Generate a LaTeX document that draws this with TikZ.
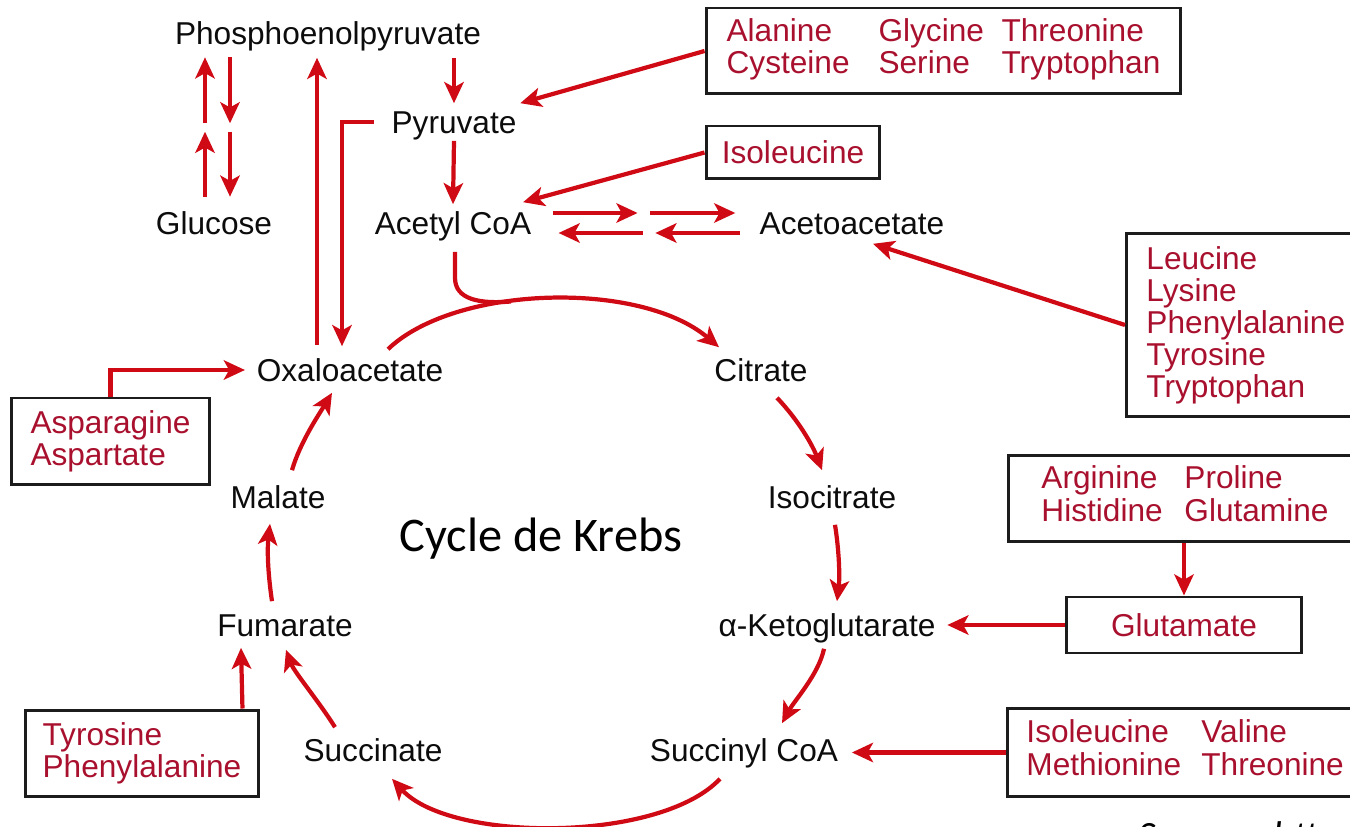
\documentclass[tikz,border=0pt]{standalone}
\usepackage{fontspec}
\setmainfont{Liberation Sans}
\newfontfamily\krebsfont{Carlito}
\usepackage{xcolor}
\usetikzlibrary{arrows.meta,calc}
\definecolor{KRArrow}{HTML}{CF0A14}
\definecolor{KRText}{HTML}{A8102E}
\definecolor{KRLine}{HTML}{1C1C1C}
\definecolor{KRInk}{HTML}{0C0C0C}
\tikzset{
  metab/.style={text=KRInk,font=\fontsize{18}{20}\selectfont,text height=13pt,text depth=4pt,inner sep=2pt},
  aabox/.style={draw=KRLine,line width=1.7pt,text=KRText,font=\fontsize{18}{18.2}\selectfont,inner ysep=0pt},
  rarr/.style={draw=KRArrow,line width=2.4pt,-{Stealth[length=12pt,width=11pt,inset=3pt]}},
  rline/.style={draw=KRArrow,line width=2.4pt}
}

\begin{document}
\begin{tikzpicture}[x=0.02cm,y=-0.02cm]
\useasboundingbox (0,0) rectangle (1350,827);
\clip (0,0) rectangle (1350,827);
% metabolites
\foreach \x/\y/\nm/\lab in {328/33/pep/Phosphoenolpyruvate,454/122/pyr/Pyruvate,214/223/glc/Glucose,
  453/223/acoa/Acetyl CoA,852/223/aca/Acetoacetate,350/370/oaa/Oxaloacetate,761/370/cit/Citrate,
  278/497/mal/Malate,832/497/icit/Isocitrate,285/625/fum/Fumarate,827/625/akg/α-Ketoglutarate,
  373/750/suc/Succinate,744/750/scoa/Succinyl CoA} {
  \node[metab] (\nm) at (\x,\y) {\raisebox{-1.9pt}{\lab}};
}
\node[font=\krebsfont\fontsize{27.5}{30}\selectfont,text=black] (krebs) at (541,539) {Cycle de Krebs};
% amino acid boxes
\node[aabox,minimum width=9.5cm,minimum height=1.72cm] (bxAla) at (943.5,51)
  {\begin{tabular}{@{}p{3.04cm}@{}p{2.46cm}@{}l@{}}Alanine&Glycine&Threonine\\Cysteine&Serine&Tryptophan\end{tabular}};
\node[aabox,minimum width=3.48cm,minimum height=1.06cm] (bxIle) at (793,152.5) {Isoleucine};
\node[aabox,anchor=west,inner xsep=0.4cm,text width=5cm,align=left,minimum height=3.68cm] (bxLeu) at (1125,325)
  {Leucine\\Lysine\\Phenylalanine\\Tyrosine\\Tryptophan};
\node[aabox,anchor=west,inner xsep=0.66cm,minimum height=1.74cm] (bxArg) at (1007,498.5)
  {\begin{tabular}{@{}p{2.86cm}@{}p{4cm}@{}}Arginine&Proline\\Histidine&Glutamine\end{tabular}};
\node[aabox,minimum width=4.72cm,minimum height=1.12cm] (bxGlu) at (1184,625) {Glutamate};
\node[aabox,anchor=west,inner xsep=0.38cm,minimum height=1.78cm] (bxVal) at (1006,752.5)
  {\begin{tabular}{@{}p{3.5cm}@{}p{4cm}@{}}Isoleucine&Valine\\Methionine&Threonine\end{tabular}};
\node[aabox,align=left,minimum width=3.98cm,minimum height=1.74cm] (bxAsn) at (110.5,441.5) {Asparagine\\Aspartate};
\node[aabox,align=left,minimum width=4.68cm,minimum height=1.74cm] (bxTyr) at (142,753.5) {Tyrosine\\Phenylalanine};
\node[font=\krebsfont\itshape\fontsize{22}{24}\selectfont,anchor=north west,inner sep=0pt] (src) at (1138,821) {Source : https://};
% feeds from amino acids
\draw[rarr] (bxAla.west) -- (pyr.north east);
\draw[rarr] (bxIle.west) -- ($(acoa.north east)+(-12,-2)$);
\draw[rarr] (bxLeu.west) -- ($(aca.south)+(21,2)$);
\draw[rarr] (bxAsn.north) |- ($(oaa.west)+(-8,0)$);
\draw[rarr] ($(bxTyr.north east)+(-18,0)$) -- ($(fum.south)+(-44,4)$);
\draw[rarr] (bxGlu.west) -- ($(akg.east)+(8,0)$);
\draw[rarr] (bxGlu.north |- bxArg.south) -- (bxGlu.north);
\draw[rarr] (bxVal.west) -- ($(scoa.east)+(10,2.5)$);
% glucose / pep / pyruvate
\draw[rarr] ($(pep.south)+(-123,71.5)$) -- ($(pep.south)+(-123,5.5)$);
\draw[rarr] ($(pep.south)+(-98,5.5)$) -- ($(pep.south)+(-98,71.5)$);
\draw[rarr] ($(glc.north)+(-9,-7.5)$) -- ($(glc.north)+(-9,-72.5)$);
\draw[rarr] ($(glc.north)+(16,-72.5)$) -- ($(glc.north)+(16,-7.5)$);
\draw[rarr] ($(oaa.north)+(-33,-6)$) -- ($(pep.south)+(-11,6)$);
\draw[rarr] ($(pyr.west)+(-14,0)$) -| ($(oaa.north)+(-8,-5)$);
\draw[rarr] ($(pep.south -| pyr.north)+(0,6)$) -- (pyr.north);
\draw[rarr] (pyr.south) -- (acoa.north);
% acetyl coa <-> acetoacetate
\draw[rarr] ($(acoa.east)+(17.5,-10)$) -- ++(85,0);
\draw[rarr] ($(aca.west)+(-105.5,-10)$) -- ++(85,0);
\draw[rarr] ($(acoa.east)+(107.5,10)$) -- ++(-84,0);
\draw[rarr] ($(aca.west)+(-15.5,10)$) -- ++(-85,0);
% krebs cycle
\coordinate (join) at (511,301.5);
\draw[rarr] ($(oaa.north)+(38,-2)$) .. controls (455,285) and (640,280) .. ($(cit.north)+(-42,-4)$);
\draw[rline] ($(acoa.south)+(2,10)$) -- ++(0,26) .. controls +(0,22) and (480,304) .. (join);
\draw[rarr] ($(cit.south)+(16,9)$) .. controls +(22,23) and +(-9,-24) .. ($(icit.north)+(-10,-8)$);
\draw[rarr] ($(icit.south)+(3,9)$) .. controls +(4,25) and +(3,-25) .. ($(akg.north)+(10,-5)$);
\draw[rarr] ($(akg.south)+(-3,5)$) .. controls +(-5,25) and +(12,-22) .. ($(scoa.north)+(38,-8)$);
\draw[rarr] ($(scoa.south)+(-24,10)$) .. controls +(-60,64) and +(58,64) .. ($(suc.south)+(19,10)$);
\draw[rarr] ($(suc.north)+(-38,-4)$) .. controls +(-17,-27) and +(8,22) .. ($(fum.south)+(1,6)$);
\draw[rarr] ($(fum.north)+(-13,-5)$) .. controls +(-4,-27) and +(-3,27) .. ($(mal.south)+(-8,8)$);
\draw[rarr] ($(mal.north)+(14,-8)$) .. controls +(8,-28) and +(-12,20) .. ($(oaa.south)+(-18,4)$);
\end{tikzpicture}
\end{document}
